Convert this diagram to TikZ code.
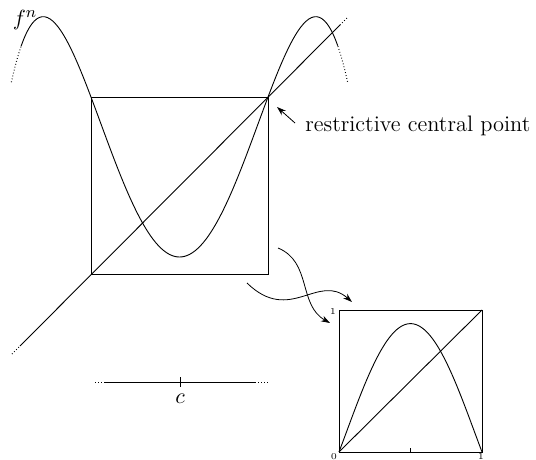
\documentclass[tikz,border=0pt]{standalone}
\usepackage{amsmath}
\usetikzlibrary{arrows.meta,calc}

\begin{document}
\begin{tikzpicture}[x=0.5pt,y=-0.5pt,
  font=\fontsize{11.2}{13}\selectfont,
  ln/.style={line width=0.45pt},
  tail/.style={line width=0.5pt, dash pattern=on 0.4pt off 1.1pt},
  arr/.style={-{Stealth[length=4.5pt,width=3pt]}, line width=0.4pt},
  lbl/.style={font=\fontsize{4.5}{5}\selectfont, inner sep=0.3pt},
  declare function={fbig(\u)=0.096+4.58*(\u-0.5)*(\u-0.5)-3.862*(\u-0.5)*(\u-0.5)*(\u-0.5)*(\u-0.5);}]

\useasboundingbox (0,0) rectangle (536,460);

% f^n with its restrictive interval
\coordinate (bl) at (91,274);
\coordinate (tr) at (268,97);
\draw[ln] (bl) rectangle (tr);
\draw[tail] (12,354) -- (20,346);
\draw[ln] (20,346) -- (340,25);
\draw[tail] (340,25) -- (348,17);
\draw[tail] plot[domain=-0.45:-0.395, samples=5] ({91+177*\x},{274-177*fbig(\x)});
\draw[ln] plot[domain=-0.395:1.395, samples=121, smooth] ({91+177*\x},{274-177*fbig(\x)});
\draw[tail] plot[domain=1.395:1.45, samples=5] ({91+177*\x},{274-177*fbig(\x)});
\node (fn) at (25,20) {$f^n$};

\node[anchor=base west, inner sep=0pt] (rcp) at (305,132) {restrictive central point};
\coordinate (rcpt) at (295,123);
\coordinate (rcph) at (277,107);
\draw[arr] (rcpt) -- (rcph);

% the real line and c
\coordinate (cl) at (104,382);
\coordinate (cr) at (255,382);
\draw[tail] (95,382) -- (cl);
\draw[ln] (cl) -- (cr);
\draw[tail] (cr) -- (268,382);
\draw[ln] (180,377) -- (180,387);
\node (c) at (180,399) {$c$};

% renormalization arrows
\coordinate (a1) at (278,248);
\coordinate (b1) at (330,323);
\coordinate (a2) at (247,283);
\coordinate (b2) at (352,302);
\draw[arr] (a1) .. controls (312,262) and (298,305) .. (b1);
\draw[arr] (a2) .. controls (290,325) and (318,272) .. (b2);

% rescaled map on [0,1]
\coordinate (sbl) at (339,452);
\coordinate (str) at (482,310);
\draw[ln] (sbl) rectangle (str);
\draw[ln] (sbl) -- (str);
\draw[ln] plot[domain=0:1, samples=81, smooth] ({339+143*\x},{452-142*(1-fbig(\x))});
\draw[ln] (410.5,452) -- (410.5,448);
\node[lbl, anchor=east] (one) at (337,312) {1};
\node[lbl, anchor=north] (zero) at (334,453) {0};
\node[lbl, anchor=north] (onex) at (481,453) {1};
\end{tikzpicture}
\end{document}
